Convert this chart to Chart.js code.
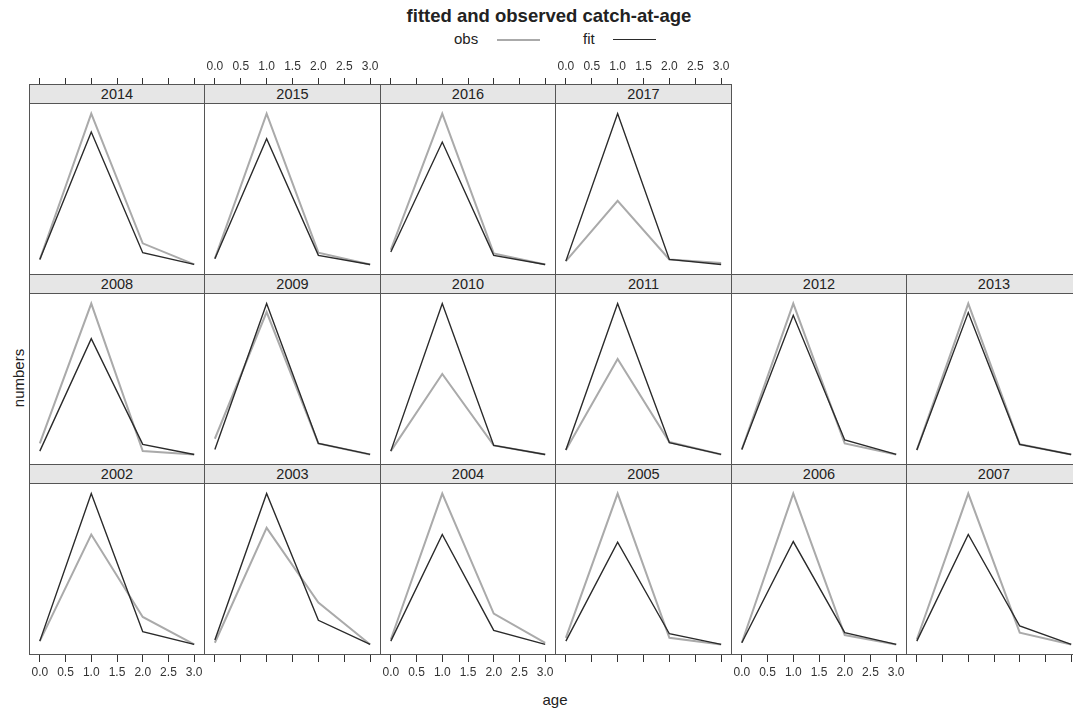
<!DOCTYPE html>
<html lang="en">
<head>
<meta charset="UTF-8">
<title>fitted and observed catch-at-age</title>
<script src="https://cdn.jsdelivr.net/npm/chart.js"></script>
<style>
    * { margin: 0; padding: 0; box-sizing: border-box; }
    body {
        width: 1073px;
        height: 709px;
        background: #fff;
        font-family: "Liberation Sans", Arial, sans-serif;
        color: #222;
        position: relative;
        overflow: hidden;
    }
    .title {
        position: absolute;
        left: 549px;
        top: 5px;
        transform: translateX(-50%);
        font-weight: bold;
        font-size: 18.5px;
        white-space: nowrap;
    }
    .key { position: absolute; font-size: 15px; line-height: 16px; top: 31px; }
    .key-line { position: absolute; top: 39px; height: 0; }
    canvas { position: absolute; }
    .strip {
        position: absolute;
        height: 20px;
        background: #e6e6e6;
        border: 1px solid #555;
        text-align: center;
        font-size: 14.5px;
        line-height: 18px;
        color: #222;
        z-index: 2;
    }
    .ylab {
        position: absolute;
        left: 18px;
        top: 378px;
        transform: translate(-50%, -50%) rotate(-90deg);
        font-size: 15px;
    }
    .xlab {
        position: absolute;
        left: 555px;
        top: 699px;
        transform: translate(-50%, -50%);
        font-size: 15px;
    }
</style>
</head>
<body>
    <div class="title">fitted and observed catch-at-age</div>
    <div class="key" style="left:454px">obs</div>
    <div class="key-line" style="left:497px;width:43px;border-top:2px solid #aaa"></div>
    <div class="key" style="left:583px">fit</div>
    <div class="key-line" style="left:613px;width:43px;border-top:1.5px solid #2a2a2a"></div>
    <div class="ylab">numbers</div>
    <div class="xlab">age</div>

<script>
    // ages and ticks
    const ages = [0, 1, 2, 3];
    const ageTicks = [0, 0.5, 1, 1.5, 2, 2.5, 3];
    const years = [2002, 2003, 2004, 2005, 2006, 2007, 2008, 2009,
                   2010, 2011, 2012, 2013, 2014, 2015, 2016, 2017];

    // catch-at-age (each panel has its own y scale)
    const obs2002 = [2.2, 72.9, 18.2, 0];   const fit2002 = [2.2, 100, 8.4, 0];
    const obs2003 = [1.1, 77.3, 27.8, 0];   const fit2003 = [2.9, 100, 16.0, 0];
    const obs2004 = [3.3, 100, 20.4, 1.1];  const fit2004 = [2.2, 72.9, 9.3, 0];
    const obs2005 = [4.4, 100, 4.4, 0];     const fit2005 = [2.2, 67.8, 7.1, 0];
    const obs2006 = [1.1, 100, 6.2, 0];     const fit2006 = [1.1, 68.2, 7.8, 0];
    const obs2007 = [3.3, 100, 7.8, 0];     const fit2007 = [2.2, 72.9, 12.2, 0];
    const obs2008 = [7.3, 100, 2.2, 0];     const fit2008 = [2.2, 76.7, 6.7, 0];
    const obs2009 = [10.4, 94.4, 7.3, 0];   const fit2009 = [3.3, 100, 7.3, 0];
    const obs2010 = [2.2, 53.3, 6.0, 0];    const fit2010 = [2.2, 100, 6.0, 0];
    const obs2011 = [2.9, 63.3, 8.2, 0];    const fit2011 = [2.9, 100, 7.8, 0];
    const obs2012 = [3.3, 100, 7.3, 0];     const fit2012 = [3.3, 92.2, 9.6, 0];
    const obs2013 = [2.9, 100, 6.7, 0];     const fit2013 = [2.9, 94.0, 6.7, 0];
    const obs2014 = [3.3, 100, 14.0, 0];    const fit2014 = [3.3, 87.8, 7.8, 0];
    const obs2015 = [3.8, 100, 7.8, 0];     const fit2015 = [3.8, 83.3, 6.0, 0];
    const obs2016 = [9.6, 100, 7.3, 0];     const fit2016 = [8.2, 81.1, 6.0, 0];
    const obs2017 = [2.2, 42.2, 3.3, 1.0];  const fit2017 = [2.2, 100, 3.3, 0];

    const labelledBottom = [2002, 2004, 2006];
    const labelledTop = [2015, 2017];

    const series = {
        2002: [obs2002, fit2002], 2003: [obs2003, fit2003], 2004: [obs2004, fit2004],
        2005: [obs2005, fit2005], 2006: [obs2006, fit2006], 2007: [obs2007, fit2007],
        2008: [obs2008, fit2008], 2009: [obs2009, fit2009], 2010: [obs2010, fit2010],
        2011: [obs2011, fit2011], 2012: [obs2012, fit2012], 2013: [obs2013, fit2013],
        2014: [obs2014, fit2014], 2015: [obs2015, fit2015], 2016: [obs2016, fit2016],
        2017: [obs2017, fit2017]
    };

    // panel layout (lattice style, filled from the bottom row)
    const colLeft = [29, 204, 380, 555, 731, 906, 1081];
    const stripTop = [464, 274, 84];
    const plotH = 172;

    // box around each panel
    const framePlugin = {
        id: 'frame',
        afterDraw(chart) {
            const a = chart.chartArea, ctx = chart.ctx;
            ctx.save();
            ctx.strokeStyle = '#555';
            ctx.lineWidth = 1;
            ctx.strokeRect(a.left + 0.5, a.top + 0.5, a.right - a.left - 1, a.bottom - a.top - 1);
            ctx.restore();
        }
    };

    years.forEach((year, i) => {
        const row = Math.floor(i / 6), col = i % 6;
        const left = colLeft[col];
        const panelW = colLeft[col + 1] - left + 1;
        const plotTop = stripTop[row] + 19;
        const isTop = row === 2, isBottom = row === 0;
        const axisH = isTop ? 50 : (isBottom ? 40 : 0);
        const showLabels = labelledBottom.includes(year) || labelledTop.includes(year);

        const strip = document.createElement('div');
        strip.className = 'strip';
        strip.style.left = left + 'px';
        strip.style.top = stripTop[row] + 'px';
        strip.style.width = panelW + 'px';
        strip.textContent = year;
        document.body.appendChild(strip);

        const canvas = document.createElement('canvas');
        canvas.width = panelW;
        canvas.height = plotH + axisH;
        canvas.style.left = left + 'px';
        canvas.style.top = (isTop ? plotTop - axisH : plotTop) + 'px';
        document.body.appendChild(canvas);

        const [obs, fit] = series[year];
        const all = obs.concat(fit);
        const lo = Math.min(...all), hi = Math.max(...all);
        const pad = (hi - lo) * 0.07;

        new Chart(canvas.getContext('2d'), {
            type: 'line',
            data: {
                datasets: [{
                    label: 'obs',
                    data: ages.map((a, k) => ({ x: a, y: obs[k] })),
                    borderColor: '#aaa',
                    borderWidth: 2,
                    order: 2
                }, {
                    label: 'fit',
                    data: ages.map((a, k) => ({ x: a, y: fit[k] })),
                    borderColor: '#2a2a2a',
                    borderWidth: 1.4,
                    order: 1
                }]
            },
            options: {
                responsive: false,
                animation: false,
                events: [],
                layout: { padding: 0 },
                elements: {
                    point: { radius: 0 },
                    line: { tension: 0, borderJoinStyle: 'miter' }
                },
                plugins: { legend: { display: false }, tooltip: { enabled: false } },
                scales: {
                    x: {
                        type: 'linear',
                        min: -0.21,
                        max: 3.21,
                        display: axisH > 0,
                        position: isTop ? 'top' : 'bottom',
                        afterFit: s => {
                            s.height = axisH;
                            s.paddingLeft = 0;
                            s.paddingRight = 0;
                        },
                        afterBuildTicks: s => { s.ticks = ageTicks.map(v => ({ value: v })); },
                        grid: {
                            drawOnChartArea: false,
                            drawTicks: true,
                            tickLength: isTop ? 25 : 7,
                            color: '#333'
                        },
                        border: { display: false },
                        ticks: {
                            autoSkip: false,
                            maxRotation: 0,
                            padding: isTop ? 4 : 3,
                            color: '#333',
                            font: { size: 12, family: '"Liberation Sans", Arial, sans-serif' },
                            callback: v => showLabels ? v.toFixed(1) : ''
                        }
                    },
                    y: {
                        display: false,
                        min: lo - pad,
                        max: hi + pad
                    }
                }
            },
            plugins: [framePlugin]
        });
    });
</script>
</body>
</html>
